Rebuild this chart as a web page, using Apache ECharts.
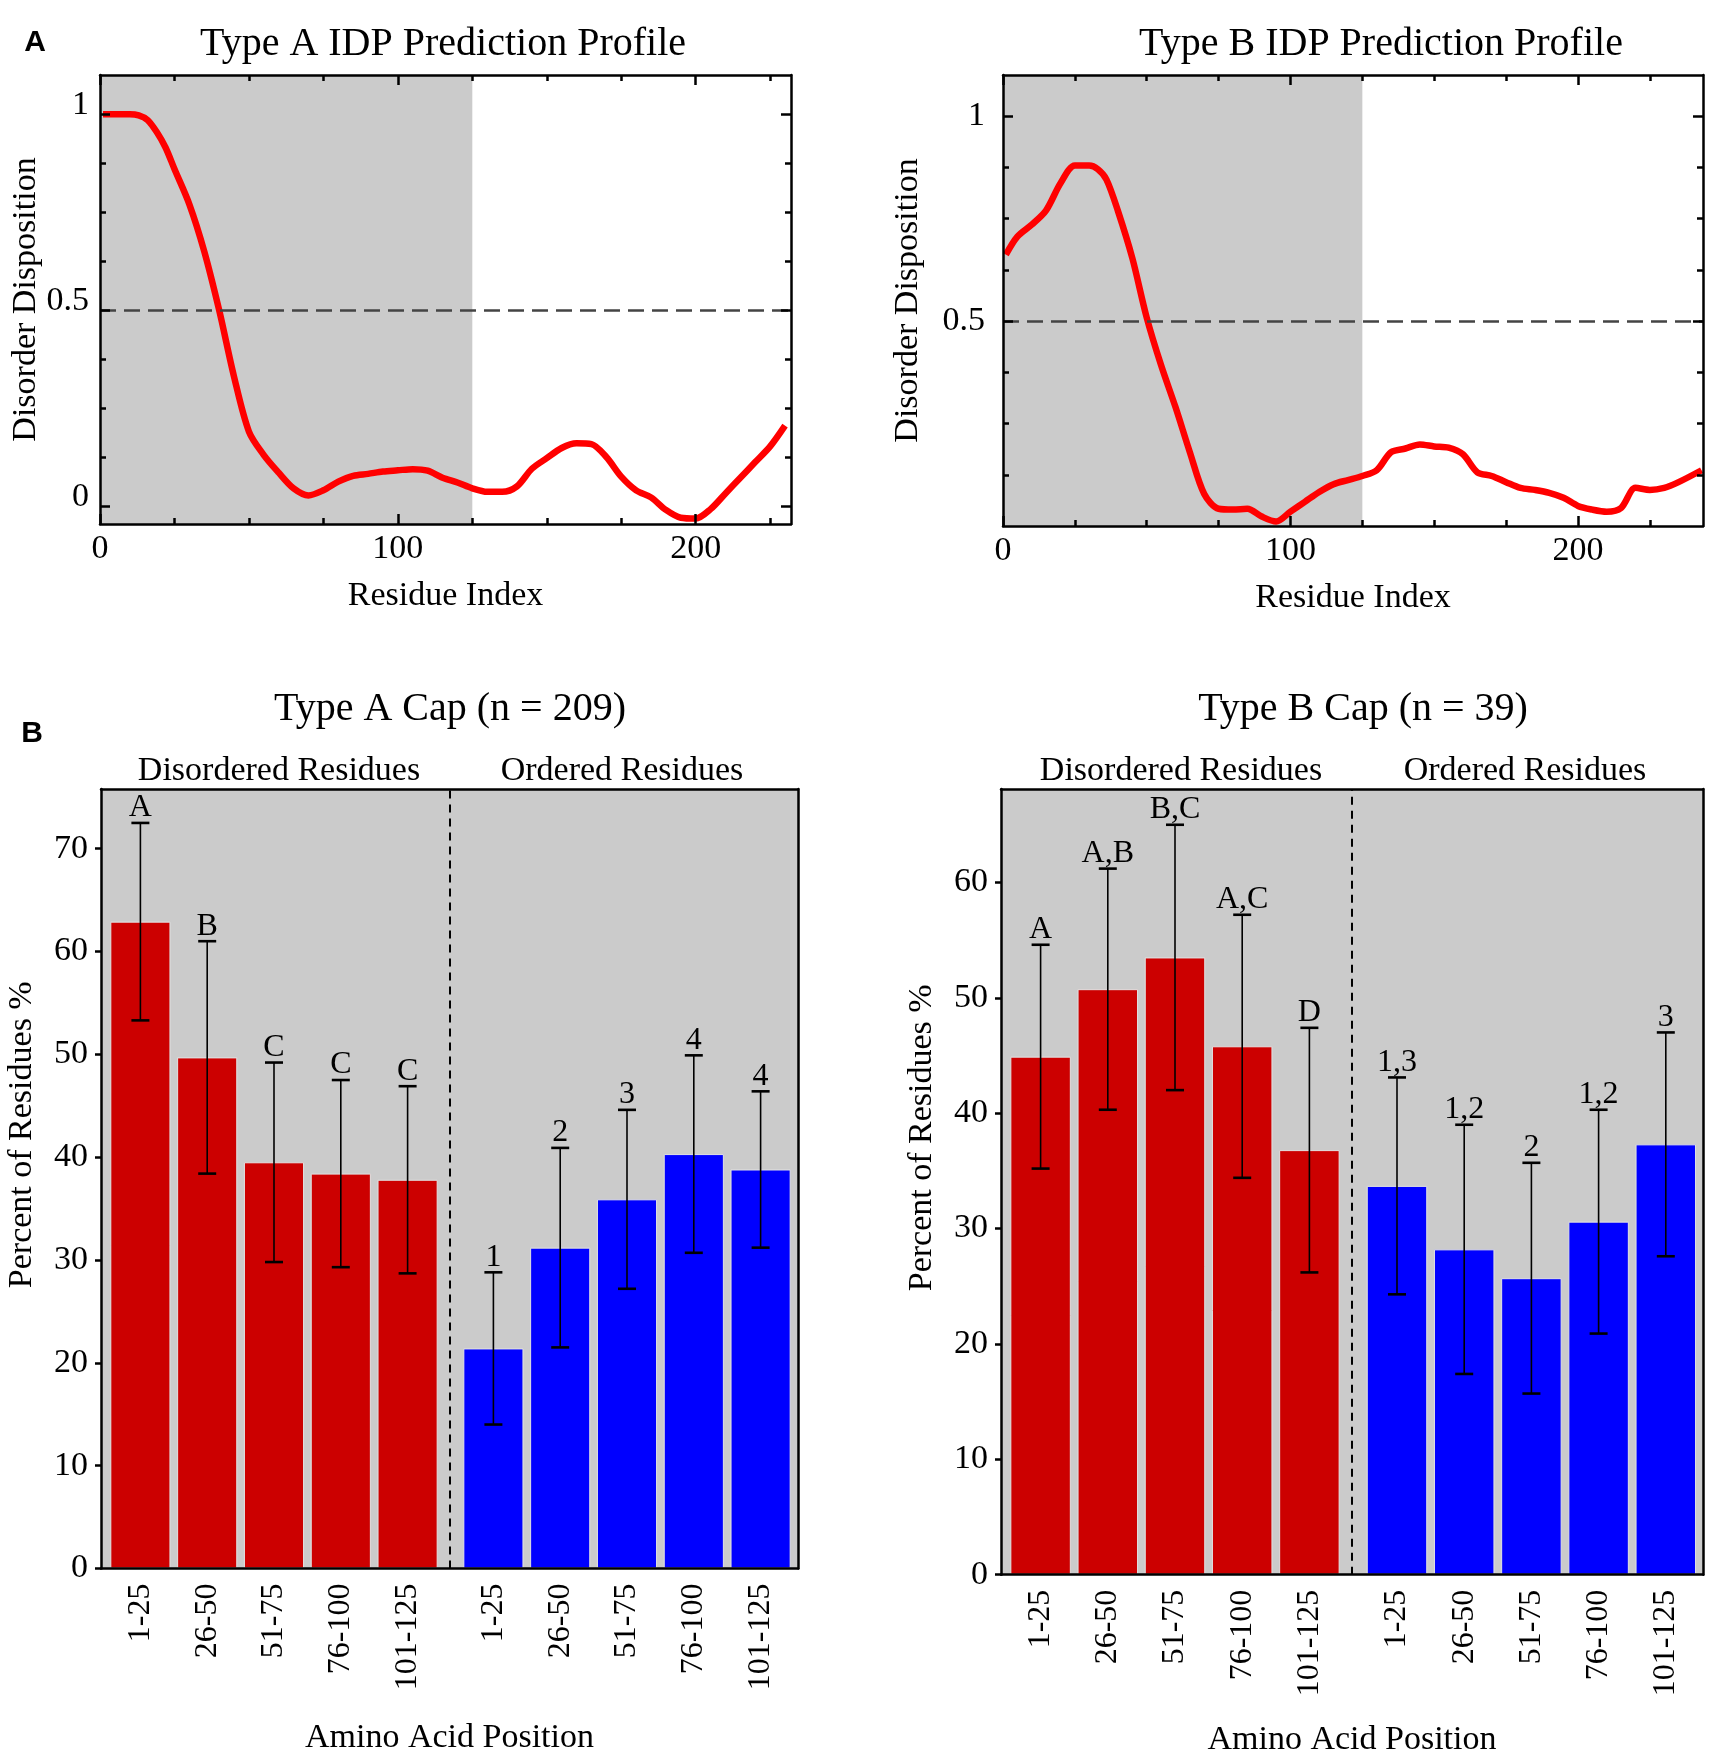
<!DOCTYPE html>
<html><head><meta charset="utf-8">
<script src="https://cdn.jsdelivr.net/npm/echarts@6/dist/echarts.min.js"></script>
<style>html,body{margin:0;padding:0;background:#fff}#c{width:1710px;height:1753px}</style>
</head><body><div id="c"></div><script>
// ---------------- DATA ----------------
const residueA = [1,5,10,13,16,19,22,25,30,35,40,45,50,55,60,65,70,75,80,85,90,95,100,105,110,115,120,125,130,135,140,145,150,155,160,165,170,175,180,185,190,195,200,205,210,215,220,225,230];
const disorderA = [1.0,1.0,1.0,0.997,0.985,0.955,0.915,0.86,0.77,0.65,0.50,0.33,0.19,0.13,0.085,0.045,0.027,0.040,0.062,0.077,0.082,0.088,0.091,0.094,0.090,0.072,0.060,0.045,0.036,0.036,0.050,0.095,0.122,0.148,0.160,0.158,0.125,0.075,0.040,0.022,-0.010,-0.030,-0.032,-0.008,0.032,0.072,0.112,0.152,0.205];
const residueB = [1,5,10,15,20,25,30,33,36,40,45,50,55,60,65,70,75,80,85,90,95,100,105,110,115,120,125,130,135,140,145,150,155,160,165,170,175,180,185,190,195,200,205,210,215,220,225,230,235,243];
const disorderB = [0.662,0.706,0.735,0.770,0.836,0.879,0.879,0.87,0.845,0.768,0.653,0.508,0.392,0.29,0.18,0.078,0.042,0.040,0.042,0.023,0.011,0.035,0.059,0.083,0.102,0.112,0.122,0.136,0.180,0.189,0.199,0.194,0.191,0.175,0.131,0.122,0.107,0.093,0.088,0.081,0.069,0.049,0.040,0.035,0.044,0.093,0.088,0.093,0.107,0.136];
const shadedRegion = [0, 125];
const disorderThreshold = [0.5];

const profileXLabels = [0, 100, 200];
const profileXMinor = [25, 50, 75, 125, 150, 175, 225];
const profileAYLabels = [0, 0.5, 1];
const profileBYLabels = [0.5, 1];
const profileYMinor = [0.125, 0.25, 0.375, 0.625, 0.75, 0.875];

const categories = ['1-25','26-50','51-75','76-100','101-125'];
const capA_disMean = [62.9, 49.7, 39.5, 38.4, 37.8];
const capA_disErr  = [9.6, 11.3, 9.7, 9.1, 9.1];
const capA_disLetters = ['A','B','C','C','C'];
const capA_ordMean = [21.4, 31.2, 35.9, 40.3, 38.8];
const capA_ordErr  = [7.4, 9.7, 8.7, 9.6, 7.6];
const capA_ordLetters = ['1','2','3','4','4'];
const capB_disMean = [44.9, 50.75, 53.5, 45.8, 36.8];
const capB_disErr  = [9.7, 10.45, 11.5, 11.4, 10.6];
const capB_disLetters = ['A','A,B','B,C','A,C','D'];
const capB_ordMean = [33.7, 28.2, 25.7, 30.6, 37.3];
const capB_ordErr  = [9.4, 10.8, 10.0, 9.7, 9.7];
const capB_ordLetters = ['1,3','1,2','2','1,2','3'];
const capAYTicks = [0,10,20,30,40,50,60,70];
const capBYTicks = [0,10,20,30,40,50,60];

// ---------------- STYLE ----------------
const SERIF = '"Liberation Serif","Times New Roman",serif';
const RED_LINE = '#ff0000', RED_BAR = '#cc0000', BLUE_BAR = '#0000ff', SHADE = '#cbcbcb';
const txt = (size) => ({fontFamily: SERIF, fontSize: size, color: '#000'});

const grids = [], xAxes = [], yAxes = [], series = [];
function addGrid(g){ grids.push(Object.assign({outerBoundsMode:'none', containLabel:false}, g)); return grids.length - 1; }

// ---------- profile panel ----------
function profilePanel(rect, xMax, yMin, yMax, xs, ys, yLabels, yNameGap, yLabelStyle, yLabelMargin){
  const g0 = addGrid(Object.assign({}, rect));
  const g1 = addGrid(Object.assign({}, rect));
  const lineW = {color:'#000', width:2.5};
  const base = {type:'value', min:0, max:xMax, z:10, splitLine:{show:false}};
  const xi = xAxes.length;
  xAxes.push(Object.assign({}, base, {gridIndex:g0, position:'bottom',
    axisLine:{show:true, onZero:false, lineStyle:lineW},
    axisTick:{show:true, inside:true, length:10, lineStyle:{color:'#000', width:2.5}, customValues: profileXLabels},
    axisLabel:{show:true, customValues: profileXLabels, margin:8, ...txt(34)},
    name:'Residue Index', nameLocation:'middle', nameGap:55, nameTextStyle: txt(34)}));
  xAxes.push(Object.assign({}, base, {gridIndex:g0, position:'top',
    axisLine:{show:true, onZero:false, lineStyle:lineW},
    axisTick:{show:true, inside:true, length:10, lineStyle:{color:'#000', width:2.5}, customValues: profileXLabels},
    axisLabel:{show:false}}));
  xAxes.push(Object.assign({}, base, {gridIndex:g1, position:'bottom',
    axisLine:{show:false, onZero:false},
    axisTick:{show:true, inside:true, length:6, lineStyle:{color:'#000', width:2.5}, customValues: profileXMinor},
    axisLabel:{show:false}}));
  xAxes.push(Object.assign({}, base, {gridIndex:g1, position:'top',
    axisLine:{show:false, onZero:false},
    axisTick:{show:true, inside:true, length:6, lineStyle:{color:'#000', width:2.5}, customValues: profileXMinor},
    axisLabel:{show:false}}));
  const ybase = {type:'value', min:yMin, max:yMax, z:10, splitLine:{show:false}};
  const yi = yAxes.length;
  yAxes.push(Object.assign({}, ybase, {gridIndex:g0, position:'left',
    axisLine:{show:true, onZero:false, lineStyle:lineW},
    axisTick:{show:true, inside:true, length:10, lineStyle:{color:'#000', width:2.5}, customValues: yLabels},
    axisLabel:Object.assign({show:true, customValues: yLabels, margin:yLabelMargin}, txt(34), yLabelStyle),
    name:'Disorder Disposition', nameLocation:'middle', nameGap:yNameGap, nameRotate:90, nameTextStyle: txt(34)}));
  yAxes.push(Object.assign({}, ybase, {gridIndex:g0, position:'right',
    axisLine:{show:true, onZero:false, lineStyle:lineW},
    axisTick:{show:true, inside:true, length:10, lineStyle:{color:'#000', width:2.5}, customValues: yLabels},
    axisLabel:{show:false}}));
  yAxes.push(Object.assign({}, ybase, {gridIndex:g1, position:'left',
    axisLine:{show:false, onZero:false},
    axisTick:{show:true, inside:true, length:6, lineStyle:{color:'#000', width:2.5}, customValues: profileYMinor},
    axisLabel:{show:false}}));
  yAxes.push(Object.assign({}, ybase, {gridIndex:g1, position:'right',
    axisLine:{show:false, onZero:false},
    axisTick:{show:true, inside:true, length:6, lineStyle:{color:'#000', width:2.5}, customValues: profileYMinor},
    axisLabel:{show:false}}));
  series.push({type:'line', xAxisIndex:xi, yAxisIndex:yi, z:3,
    data: xs.map((x,i)=>[x, ys[i]]), showSymbol:false, symbol:'none', smooth:0.3,
    lineStyle:{color:RED_LINE, width:6.5}, silent:true,
    markArea:{silent:true, itemStyle:{color:SHADE}, data:[[{xAxis:shadedRegion[0]},{xAxis:shadedRegion[1]}]]},
    markLine:{silent:true, symbol:['none','none'], label:{show:false},
      lineStyle:{color:'#444', width:2.5, type:[16,8]}, data:[{yAxis:disorderThreshold[0]}]}});
}

// ---------- cap bar panel ----------
function errRenderer(letters){
  return function(params, api){
    const c = api.value(0), m = api.value(1), e = api.value(2);
    const top = api.coord([c, m + e]);
    const bot = api.coord([c, m - e]);
    const h = 9;
    return {type:'group', children:[
      {type:'line', shape:{x1:top[0], y1:top[1], x2:bot[0], y2:bot[1]}, style:{stroke:'#000', lineWidth:1.6}},
      {type:'line', shape:{x1:top[0]-h, y1:top[1], x2:top[0]+h, y2:top[1]}, style:{stroke:'#000', lineWidth:2.6}},
      {type:'line', shape:{x1:bot[0]-h, y1:bot[1], x2:bot[0]+h, y2:bot[1]}, style:{stroke:'#000', lineWidth:2.6}},
      {type:'text', x: top[0], y: top[1] + 1, style:{text: letters[params.dataIndex], x:0, y:0,
        align:'center', verticalAlign:'bottom', fontFamily: SERIF, fontSize:32, fill:'#000'}}
    ]};
  };
}
function capPanel(frame, subL, subR, yMax, yTicks, groups, xNameGap){
  const gb = addGrid(Object.assign({show:true, backgroundColor:SHADE, borderWidth:0}, frame));
  const lineW = {color:'#000', width:2.5};
  const xb = xAxes.length;
  xAxes.push({gridIndex:gb, type:'value', min:0, max:1, position:'bottom', z:10,
    axisLine:{show:true, onZero:false, lineStyle:lineW}, axisTick:{show:false}, axisLabel:{show:false}, splitLine:{show:false},
    name:'Amino Acid Position', nameLocation:'middle', nameGap:xNameGap, nameTextStyle: txt(34)});
  xAxes.push({gridIndex:gb, type:'value', min:0, max:1, position:'top', z:10,
    axisLine:{show:true, onZero:false, lineStyle:lineW}, axisTick:{show:false}, axisLabel:{show:false}, splitLine:{show:false}});
  const yb = yAxes.length;
  yAxes.push({gridIndex:gb, type:'value', min:0, max:yMax, position:'left', z:10,
    axisLine:{show:true, onZero:false, lineStyle:lineW},
    axisTick:{show:true, inside:false, length:6, lineStyle:{color:'#000', width:2.5}, customValues:yTicks},
    axisLabel:{show:true, customValues:yTicks, margin:13, ...txt(34)}, splitLine:{show:false},
    name:'Percent of Residues %', nameLocation:'middle', nameGap:62, nameRotate:90,
    nameTextStyle: Object.assign(txt(34), {padding:[0,0,0,88]})});
  yAxes.push({gridIndex:gb, type:'value', min:0, max:yMax, position:'right', z:10,
    axisLine:{show:true, onZero:false, lineStyle:lineW}, axisTick:{show:false}, axisLabel:{show:false}, splitLine:{show:false}});
  series.push({type:'line', xAxisIndex:xb, yAxisIndex:yb, data:[], silent:true, symbol:'none',
    markLine:{silent:true, symbol:['none','none'], label:{show:false},
      lineStyle:{color:'#000', width:2, type:[8,6]}, data:[{xAxis:0.5}]}});
  [subL, subR].forEach((rect, k) => {
    const g = addGrid(Object.assign({}, rect, {top:frame.top, height:frame.height}));
    const xi = xAxes.length;
    xAxes.push({gridIndex:g, type:'category', data:categories, position:'bottom',
      axisLine:{show:false}, axisTick:{show:false},
      axisLabel:{show:true, interval:0, rotate:90, margin:15, ...txt(32)}});
    const yi = yAxes.length;
    yAxes.push({gridIndex:g, type:'value', min:0, max:yMax, show:false});
    const grp = groups[k];
    series.push({type:'bar', xAxisIndex:xi, yAxisIndex:yi, data:grp.mean, barCategoryGap:'10%', silent:true,
      itemStyle:{color:grp.color, borderColor:'#e2e2e2', borderWidth:1}});
    series.push({type:'custom', xAxisIndex:xi, yAxisIndex:yi, clip:false, silent:true, z:5,
      data: grp.mean.map((m,i)=>[i, m, grp.err[i]]), renderItem: errRenderer(grp.letters)});
  });
}

profilePanel({left:100, top:75, width:691, height:449}, 232, -0.046, 1.1, residueA, disorderA, profileAYLabels, 50,
  {verticalAlign:'bottom', lineHeight:18}, 11);
profilePanel({left:1003, top:75, width:700, height:451}, 243.5, 0, 1.1, residueB, disorderB, profileBYLabels, 78,
  {}, 18);

capPanel({left:101, top:789, width:697, height:779.5}, {left:107, width:334}, {left:460, width:334}, 75.8, capAYTicks,
  [{mean:capA_disMean, err:capA_disErr, letters:capA_disLetters, color:RED_BAR},
   {mean:capA_ordMean, err:capA_ordErr, letters:capA_ordLetters, color:BLUE_BAR}], 153);
capPanel({left:1001, top:789, width:702, height:785.7}, {left:1007, width:336}, {left:1363.4, width:336}, 68.1, capBYTicks,
  [{mean:capB_disMean, err:capB_disErr, letters:capB_disLetters, color:RED_BAR},
   {mean:capB_ordMean, err:capB_ordErr, letters:capB_ordLetters, color:BLUE_BAR}], 148);

function ttl(text, cx, cy, size, sans){
  return {text, left:cx, top:cy - size*0.58, textAlign:'center', padding:0,
    textStyle:{fontFamily: sans ? '"Liberation Sans",Arial,sans-serif' : SERIF, fontSize:size,
      fontWeight: sans ? 'bold' : 'normal', color:'#000'}};
}
const titles = [
  ttl('Type A IDP Prediction Profile', 443, 48, 40),
  ttl('Type B IDP Prediction Profile', 1381, 48, 40),
  ttl('Type A Cap (n = 209)', 450, 713, 40),
  ttl('Type B Cap (n = 39)', 1363, 713, 40),
  ttl('Disordered Residues', 279, 774, 34),
  ttl('Ordered Residues', 622, 774, 34),
  ttl('Disordered Residues', 1181, 774, 34),
  ttl('Ordered Residues', 1525, 774, 34),
  ttl('A', 35, 45, 30, true),
  ttl('B', 32, 736, 30, true)
];

const chart = echarts.init(document.getElementById('c'), null, {renderer:'canvas'});
chart.setOption({
  animation:false,
  backgroundColor:'#fff',
  title: titles,
  grid: grids,
  xAxis: xAxes,
  yAxis: yAxes,
  series: series
});
</script></body></html>
